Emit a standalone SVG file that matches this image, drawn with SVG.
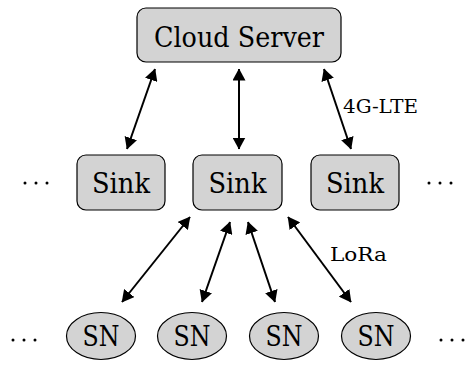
<svg xmlns="http://www.w3.org/2000/svg" width="466" height="369" viewBox="0 0 466 369">
<defs>
<style>
.box{fill:#d3d3d3;stroke:#000;stroke-width:1.2}
.lbl{fill:#000;text-anchor:middle;font-family:'DejaVu Serif',serif}
.big{font-size:27px}
.small{font-size:18px;text-anchor:start}
.conn{stroke:#000;stroke-width:2;fill:none}
.dot{fill:#000}
</style>
<marker id="ah" viewBox="0 0 12 13" refX="11.5" refY="6.5" markerWidth="12" markerHeight="13" markerUnits="userSpaceOnUse" orient="auto-start-reverse">
<path d="M0,0 L12,6.5 L0,13 Z" fill="#000"/>
</marker>
</defs>
<rect width="466" height="369" fill="#fff"/>
<g id="connectors">
<line class="conn" marker-start="url(#ah)" marker-end="url(#ah)" x1="155" y1="69" x2="127" y2="149"/>
<line class="conn" marker-start="url(#ah)" marker-end="url(#ah)" x1="239" y1="69" x2="239" y2="149"/>
<line class="conn" marker-start="url(#ah)" marker-end="url(#ah)" x1="324" y1="69" x2="351" y2="149"/>
<line class="conn" marker-start="url(#ah)" marker-end="url(#ah)" x1="190" y1="217" x2="122" y2="302"/>
<line class="conn" marker-start="url(#ah)" marker-end="url(#ah)" x1="230" y1="222" x2="202" y2="302"/>
<line class="conn" marker-start="url(#ah)" marker-end="url(#ah)" x1="248" y1="222" x2="275" y2="302"/>
<line class="conn" marker-start="url(#ah)" marker-end="url(#ah)" x1="288" y1="217" x2="351" y2="302"/>
<text class="lbl small" x="343" y="113" textLength="75" lengthAdjust="spacingAndGlyphs">4G-LTE</text>
<text class="lbl small" x="330" y="261" textLength="57" lengthAdjust="spacingAndGlyphs">LoRa</text>
</g>
<g id="cloud">
<rect class="box" x="137" y="8" width="204" height="54" rx="9"/>
<text class="lbl big" x="239" y="47" textLength="170" lengthAdjust="spacingAndGlyphs">Cloud Server</text>
</g>
<g id="sink1">
<rect class="box" x="77" y="155" width="88" height="55" rx="9"/>
<text class="lbl big" x="121" y="193" textLength="58" lengthAdjust="spacingAndGlyphs">Sink</text>
</g>
<g id="sink2">
<rect class="box" x="193" y="155" width="89" height="55" rx="9"/>
<text class="lbl big" x="237.5" y="193" textLength="58" lengthAdjust="spacingAndGlyphs">Sink</text>
</g>
<g id="sink3">
<rect class="box" x="311" y="155" width="88" height="55" rx="9"/>
<text class="lbl big" x="355" y="193" textLength="58" lengthAdjust="spacingAndGlyphs">Sink</text>
</g>
<g id="sn1">
<ellipse class="box" cx="101" cy="336" rx="34.5" ry="23.5"/>
<text class="lbl big" x="101" y="346" textLength="37" lengthAdjust="spacingAndGlyphs">SN</text>
</g>
<g id="sn2">
<ellipse class="box" cx="192" cy="336" rx="34.5" ry="23.5"/>
<text class="lbl big" x="192" y="346" textLength="37" lengthAdjust="spacingAndGlyphs">SN</text>
</g>
<g id="sn3">
<ellipse class="box" cx="284" cy="336" rx="34.5" ry="23.5"/>
<text class="lbl big" x="284" y="346" textLength="37" lengthAdjust="spacingAndGlyphs">SN</text>
</g>
<g id="sn4">
<ellipse class="box" cx="376" cy="336" rx="34.5" ry="23.5"/>
<text class="lbl big" x="376" y="346" textLength="37" lengthAdjust="spacingAndGlyphs">SN</text>
</g>
<g id="dots">
<circle class="dot" cx="25" cy="183" r="1.5"/><circle class="dot" cx="36" cy="183" r="1.5"/><circle class="dot" cx="47" cy="183" r="1.5"/>
<circle class="dot" cx="429" cy="183" r="1.5"/><circle class="dot" cx="440" cy="183" r="1.5"/><circle class="dot" cx="451" cy="183" r="1.5"/>
<circle class="dot" cx="13" cy="340" r="1.5"/><circle class="dot" cx="24" cy="340" r="1.5"/><circle class="dot" cx="35" cy="340" r="1.5"/>
<circle class="dot" cx="441" cy="340" r="1.5"/><circle class="dot" cx="452" cy="340" r="1.5"/><circle class="dot" cx="463" cy="340" r="1.5"/>
</g>
</svg>
